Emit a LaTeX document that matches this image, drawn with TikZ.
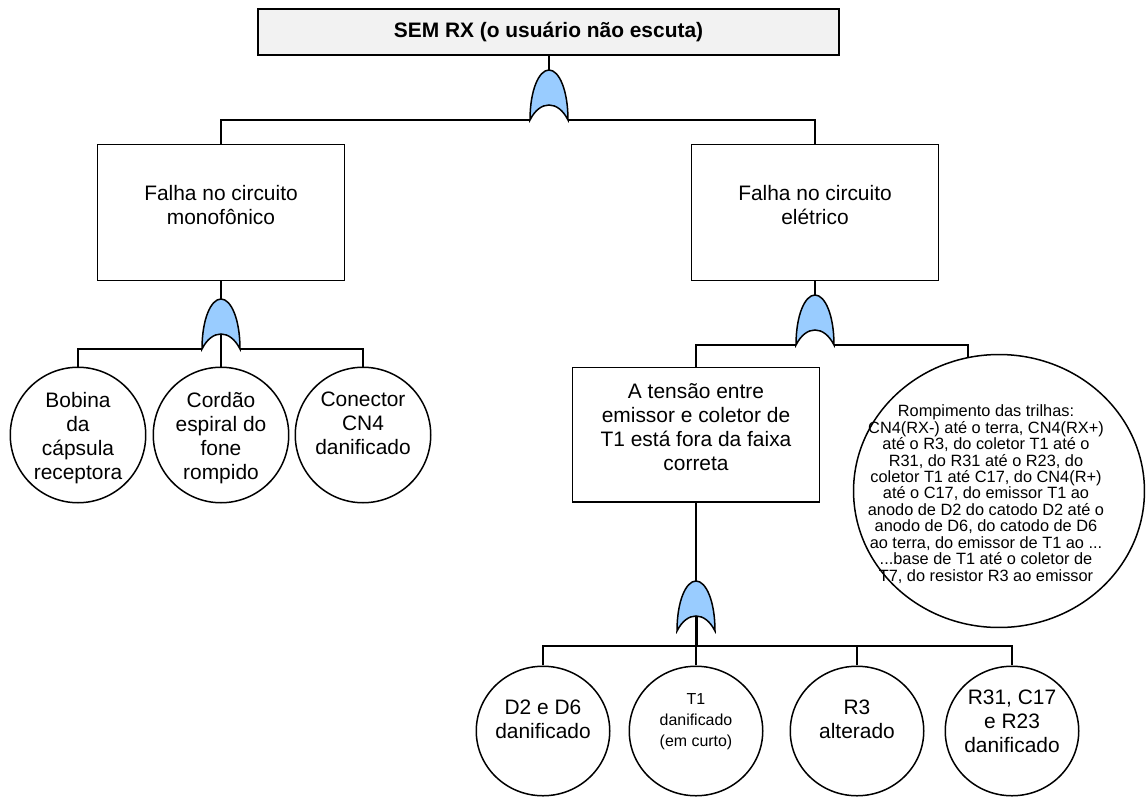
\documentclass[tikz,border=0pt]{standalone}
\usepackage{fontspec}
\setmainfont{Liberation Sans}
\usetikzlibrary{shapes.geometric}
\definecolor{gateblue}{RGB}{153,204,255}
\definecolor{titlegray}{RGB}{242,242,242}
\tikzset{
  wire/.style={draw=black, line width=1.5bp},
  evbox/.style={draw=black, line width=1.5bp, rectangle, inner sep=0pt},
  evcirc/.style={draw=black, line width=1.5bp, ellipse, inner sep=0pt},
  txt/.style={align=center, inner sep=0pt, font=\fontsize{21}{24}\selectfont},
  smalltxt/.style={align=center, inner sep=0pt, font=\fontsize{16}{21}\selectfont},
  tinytxt/.style={align=center, inner sep=0pt, font={\fontsize{16.4}{16.5}\selectfont\lineskiplimit=-8pt}},
  pics/orgate/.style={code={
    \draw[line width=1.5bp, fill=gateblue]
      (-19,0) .. controls (-19,-30) and (-10,-50) .. (0,-50)
      .. controls (10,-50) and (19,-30) .. (19,0)
      .. controls (14,-10) and (7,-15) .. (0,-15)
      .. controls (-7,-15) and (-14,-10) .. (-19,0) -- cycle;
    \coordinate (-top) at (0,-50);
    \coordinate (-in) at (0,-15);
    \coordinate (-bl) at (-19,0);
    \coordinate (-br) at (19,0);
  }}
}
\begin{document}
\begin{tikzpicture}[x=1bp, y=-1bp]
\useasboundingbox (0,0) rectangle (1148,798);

% top event
\node[evbox, fill=titlegray, line width=2bp, minimum width=583, minimum height=46] (top) at (548.5,32) {};
\node[txt, font=\fontsize{21}{24}\selectfont\bfseries] (toptxt) at (548.5,32) {SEM RX (o usuário não escuta)};

% intermediate events
\node[evbox, minimum width=248, minimum height=137] (bl) at (221,212.5) {};
\node[txt] (bltxt) at (221,205) {Falha no circuito\\monofônico};
\node[evbox, minimum width=248, minimum height=137] (br) at (815,212.5) {};
\node[txt] (brtxt) at (815,205) {Falha no circuito\\elétrico};
\node[evbox, minimum width=248, minimum height=135] (tb) at (696,434.5) {};
\node[txt] (tbtxt) at (696,427) {A tensão entre\\emissor e coletor de\\T1 está fora da faixa\\correta};

% basic events, left branch
\node[evcirc, minimum width=136, minimum height=136] (c1) at (78,435) {};
\node[evcirc, minimum width=136, minimum height=136] (c2) at (221,435) {};
\node[evcirc, minimum width=136, minimum height=136] (c3) at (363,435) {};
\node[txt, anchor=north] (c1t) at (78,392) {Bobina\\da\\cápsula\\receptora};
\node[txt, anchor=north] (c2t) at (221,392) {Cordão\\espiral do\\fone\\rompido};
\node[txt, anchor=north] (c3t) at (363,392) {Conector\\CN4\\danificado};

% track rupture event
\node[evcirc, minimum width=292, minimum height=274] (el) at (999,491) {};
\node[tinytxt] (elt) at (986,494) {Rompimento das trilhas:\\CN4(RX-) até o terra, CN4(RX+)\\até o R3, do coletor T1 até o\\R31, do R31 até o R23, do\\coletor T1 até C17, do CN4(R+)\\até o C17, do emissor T1 ao\\anodo de D2 do catodo D2 até o\\anodo de D6, do catodo de D6\\ao terra, do emissor de T1 ao ...\\...base de T1 até o coletor de\\T7, do resistor R3 ao emissor};

% basic events, bottom branch
\node[evcirc, minimum width=134, minimum height=130] (d1) at (543,731) {};
\node[evcirc, minimum width=134, minimum height=130] (d2) at (696,731) {};
\node[evcirc, minimum width=134, minimum height=130] (d3) at (857,731) {};
\node[evcirc, minimum width=134, minimum height=130] (d4) at (1012,731) {};
\node[txt] (d1t) at (543,719) {D2 e D6\\danificado};
\node[smalltxt] (d2t) at (696,722) {T1\\danificado\\(em curto)};
\node[txt] (d3t) at (857,719) {R3\\alterado};
\node[txt] (d4t) at (1012,721) {R31, C17\\e R23\\danificado};

% gates
\pic (g0) at (549,120) {orgate};
\pic (gL) at (221,349) {orgate};
\pic (gR) at (815,345) {orgate};
\pic (gB) at (696,631) {orgate};
\coordinate (hb) at (696,646);

% connectors
\draw[wire] (top.south -| g0-top) -- (g0-top);
\draw[wire] (g0-bl) -| (bl.north);
\draw[wire] (g0-br) -| (br.north);

\draw[wire] (bl.south) -- (gL-top);
\draw[wire] (gL-bl) -| (c1.north);
\draw[wire] (gL-br) -| (c3.north);
\draw[wire] (gL-in) -- (c2.north);

\draw[wire] (br.south) -- (gR-top);
\draw[wire] (gR-bl) -| (tb.north);
\draw[wire] (gR-br) -| (el.103.5);

\draw[wire] (tb.south) -- (gB-top);
\draw[draw=black, line width=3bp] (gB-in) -- (hb);
\draw[wire] (hb) -| (d1.north);
\draw[wire] (hb) -| (d4.north);
\draw[wire] (hb) -- (d2.north);
\draw[wire] (hb) -| (d3.north);
\end{tikzpicture}
\end{document}
